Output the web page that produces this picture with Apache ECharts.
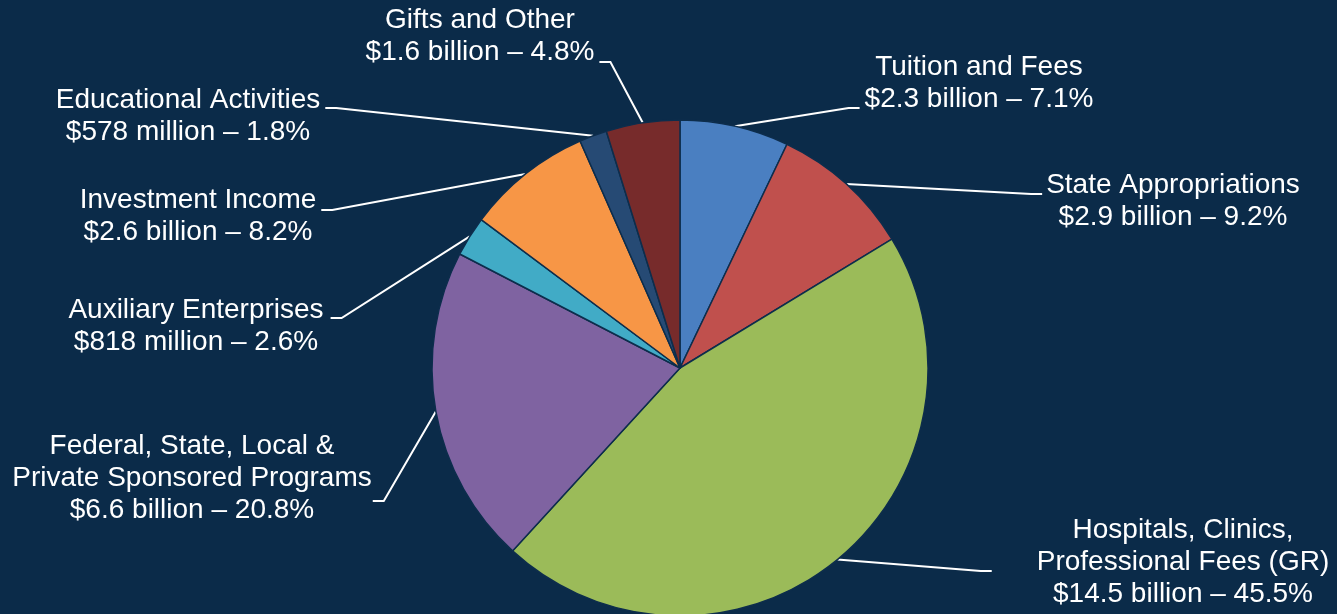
<!DOCTYPE html>
<html>
<head>
<meta charset="utf-8">
<script src="https://cdn.jsdelivr.net/npm/echarts@6/dist/echarts.min.js"></script>
<style>
  html, body { margin: 0; padding: 0; background: #0b2b49; }
  #chart { width: 1337px; height: 614px; }
</style>
</head>
<body>
<div id="chart"></div>
<script>
// ---- Data ----
var categories = [
  'Tuition and Fees',
  'State Appropriations',
  'Hospitals, Clinics,\nProfessional Fees (GR)',
  'Federal, State, Local &\nPrivate Sponsored Programs',
  'Auxiliary Enterprises',
  'Investment Income',
  'Educational Activities',
  'Gifts and Other'
];
var amounts = [
  '$2.3 billion', '$2.9 billion', '$14.5 billion', '$6.6 billion',
  '$818 million', '$2.6 billion', '$578 million', '$1.6 billion'
];
var percents = [7.1, 9.2, 45.5, 20.8, 2.6, 8.2, 1.8, 4.8];
var colors = ['#4a7fc1', '#c0504d', '#9bbb59', '#7f63a1', '#41abc6', '#f79646', '#264a74', '#772b2b'];

// ---- Label placement (layout only) ----
// cx, cy: centre of label block; attach: which side of label the leader line meets;
// gap: distance from label edge to line end; dy: vertical offset of line end from block centre
var labelPlace = [
  { cx: 979,  cy: 83,  attach: 'left',  gap: 5,  dy: 25 },
  { cx: 1173, cy: 201, attach: 'left',  gap: 4,  dy: -7 },
  { cx: 1183, cy: 562, attach: 'left',  gap: 45, dy: 9 },
  { cx: 192,  cy: 478, attach: 'right', gap: 1,  dy: 23 },
  { cx: 196,  cy: 326, attach: 'right', gap: 7,  dy: -8 },
  { cx: 198,  cy: 216, attach: 'right', gap: 5,  dy: -6 },
  { cx: 188,  cy: 116, attach: 'right', gap: 5,  dy: -8 },
  { cx: 480,  cy: 36,  attach: 'right', gap: 5,  dy: 26 }
];

var seriesData = categories.map(function (name, i) {
  return {
    name: name,
    value: percents[i],
    itemStyle: { color: colors[i] },
    label: { formatter: name + '\n' + amounts[i] + ' \u2013 ' + percents[i] + '%' }
  };
});

var chart = echarts.init(document.getElementById('chart'));
chart.setOption({
  backgroundColor: '#0b2b49',
  animation: false,
  series: [{
    type: 'pie',
    center: [680, 368],
    radius: 248,
    startAngle: 90,
    clockwise: true,
    avoidLabelOverlap: false,
    itemStyle: { borderColor: '#0d2d4c', borderWidth: 1.5 },
    label: {
      show: true,
      position: 'outside',
      color: '#ffffff',
      fontFamily: 'Liberation Sans, Arial, sans-serif',
      fontSize: 28,
      lineHeight: 32,
      align: 'center'
    },
    labelLine: {
      show: true,
      length: 20,
      length2: 10,
      lineStyle: { color: '#ffffff', width: 2 }
    },
    labelLayout: function (p) {
      var L = labelPlace[p.dataIndex];
      var w = p.labelRect.width;
      var out = { x: L.cx, y: L.cy, align: 'center', verticalAlign: 'middle' };
      if (p.labelLinePoints && p.labelLinePoints.length) {
        var start = p.labelLinePoints[0];
        var ey = L.cy + L.dy;
        var ex, bx;
        if (L.attach === 'left') {
          ex = L.cx - w / 2 - L.gap;
          bx = ex - 11;
        } else {
          ex = L.cx + w / 2 + L.gap;
          bx = ex + 11;
        }
        out.labelLinePoints = [[start[0], start[1]], [bx, ey], [ex, ey]];
      }
      return out;
    },
    data: seriesData
  }]
});
</script>
</body>
</html>
